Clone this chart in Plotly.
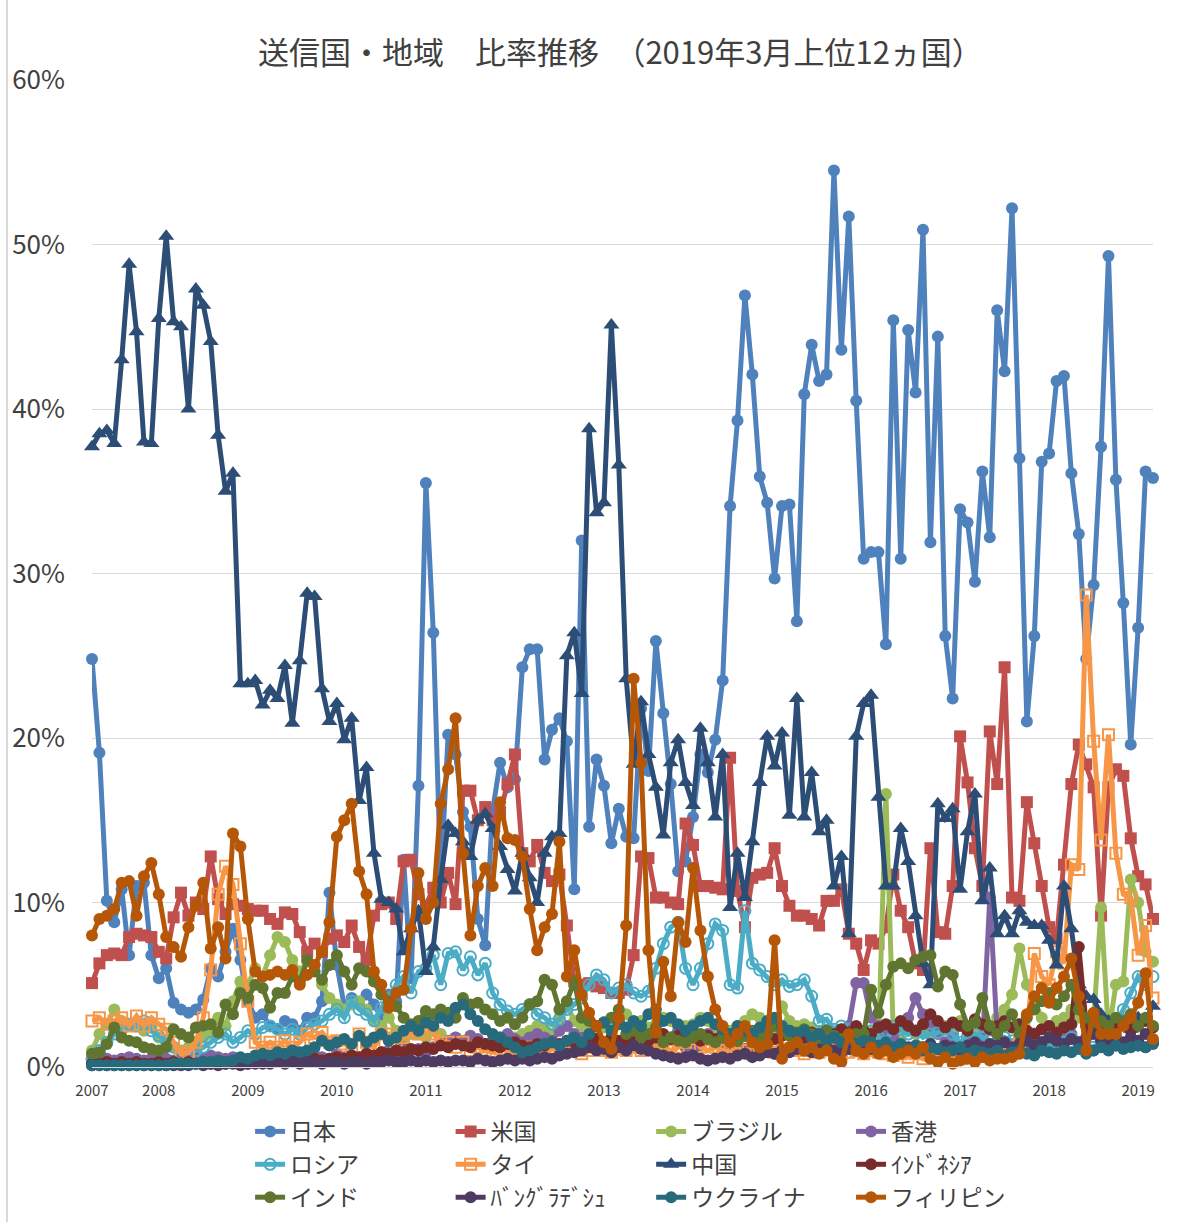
import plotly.graph_objects as go
import pandas as pd

months = [p.strftime("%Y-%m") for p in pd.period_range("2007-04", "2019-03", freq="M")]
year_ticks = ["2007-04"] + [f"{y}-01" for y in range(2008, 2020)]
year_text = [str(y) for y in range(2007, 2020)]

japan = [
    24.8, 19.1, 10.1, 8.8, 10.8, 6.8, 11.0, 11.2, 6.8, 5.4, 6.0, 3.9,
    3.5, 3.3, 3.5, 4.1, 6.0, 5.5, 7.0, 8.4, 6.5, 4.0, 3.0, 3.2,
    2.5, 2.3, 2.8, 2.6, 2.2, 3.0, 3.0, 4.0, 10.6, 6.2, 3.7, 4.2,
    3.8, 4.4, 3.8, 3.0, 4.4, 4.0, 12.6, 5.4, 17.1, 35.5, 26.4, 11.4,
    20.2, 19.0, 15.5, 14.6, 9.0, 7.4, 15.6, 18.5, 17.0, 17.5, 24.3, 25.4,
    25.4, 18.7, 20.5, 21.2, 19.8, 10.8, 32.0, 14.6, 18.7, 17.1, 13.6, 15.7,
    14.0, 13.9, 21.8, 18.0, 25.9, 21.5, 17.2, 11.9, 12.5, 15.2, 19.0, 17.9,
    19.9, 23.5, 34.1, 39.3, 46.9, 42.1, 35.9, 34.3, 29.7, 34.1, 34.2, 27.1,
    40.9, 43.9, 41.7, 42.1, 54.5, 43.6, 51.7, 40.5, 30.9, 31.3, 31.3, 25.7,
    45.4, 30.9, 44.8, 41.0, 50.9, 31.9, 44.4, 26.2, 22.4, 33.9, 33.1, 29.5,
    36.2, 32.2, 46.0, 42.3, 52.2, 37.0, 21.0, 26.2, 36.8, 37.3, 41.7, 42.0,
    36.1, 32.4, 24.8, 29.3, 37.7, 49.3, 35.7, 28.2, 19.6, 26.7, 36.2, 35.8,
]
usa = [
    5.1, 6.3, 6.8, 6.9, 6.8, 7.9, 8.1, 8.0, 7.9, 7.0, 6.6, 9.1,
    10.6, 9.2, 10.0, 9.6, 12.8, 10.2, 9.3, 9.9, 9.8, 9.6, 9.5, 9.5,
    9.0, 8.7, 9.4, 9.3, 8.2, 7.0, 7.5, 7.0, 7.8, 8.0, 7.6, 8.6,
    7.3, 6.5, 9.2, 9.9, 10.0, 9.0, 12.5, 12.6, 10.5, 9.8, 10.9, 10.0,
    11.8, 9.9, 16.8, 16.8, 15.0, 15.8, 15.0, 15.5, 17.2, 19.0, 13.0, 12.5,
    13.5, 11.8, 11.3, 11.7, 8.6, 5.2, 5.0, 5.1, 4.9, 4.8, 4.5, 4.5,
    4.7, 6.8, 12.8, 12.7, 10.3, 10.3, 10.0, 9.9, 14.8, 13.5, 11.0, 11.0,
    10.9, 10.8, 18.8, 10.7, 8.5, 11.5, 11.7, 11.8, 13.3, 11.0, 9.8, 9.2,
    9.2, 9.0, 8.6, 10.1, 10.1, 10.8, 8.1, 7.5, 5.9, 7.7, 7.5, 8.5,
    11.7, 9.5, 8.5, 6.3, 5.9, 13.3, 8.2, 8.1, 11.0, 20.1, 17.3, 13.3,
    11.0, 20.4, 17.2, 24.3, 10.3, 10.1, 16.1, 13.6, 11.0, 8.5, 7.8, 12.3,
    17.2, 19.6, 18.4, 17.0, 9.2, 17.0, 18.1, 17.7, 13.9, 11.6, 11.1, 9.0,
]
brazil = [
    1.0, 2.0, 2.6, 3.5, 2.8, 2.5, 2.6, 2.2, 2.4, 1.8, 1.5, 1.2,
    1.0, 1.2, 1.5, 1.8, 2.0, 3.0, 2.5, 4.0, 5.2, 5.0, 6.0, 5.5,
    6.8, 7.9, 7.6, 6.5, 5.8, 6.4, 6.2, 5.0, 4.2, 3.8, 3.5, 3.8,
    4.0, 3.5, 2.8, 2.5, 3.0, 2.2, 1.5, 2.0, 2.0, 1.8, 2.2, 2.0,
    1.5, 1.8, 1.6, 1.4, 1.5, 1.3, 1.2, 1.5, 1.6, 1.8, 2.0, 2.2,
    2.5, 2.4, 2.0, 3.0, 3.8, 2.8, 2.5, 2.2, 2.0, 2.4, 2.6, 3.0,
    3.2, 2.5, 2.8, 2.4, 2.6, 3.0, 2.8, 2.2, 2.5, 2.6, 3.0, 2.8,
    2.4, 2.0, 2.2, 2.5, 2.8, 3.2, 3.0, 2.6, 2.4, 3.7, 2.8, 2.5,
    2.6, 2.4, 2.2, 2.0, 1.8, 2.0, 1.5, 1.8, 2.0, 2.2, 1.5, 16.6,
    2.0, 1.8, 2.2, 2.0, 2.2, 2.0, 2.4, 2.5, 2.2, 2.8, 2.5, 2.2,
    2.0, 2.5, 3.0, 3.5, 4.4, 7.2, 5.0, 4.0, 3.0, 2.5, 2.8, 3.0,
    3.5, 3.0, 2.5, 2.8, 9.7, 2.0, 5.0, 5.2, 11.4, 10.0, 7.0, 6.4,
]
hongkong = [
    0.3, 0.4, 0.5, 0.4, 0.5, 0.6, 0.5, 0.4, 0.5, 0.6, 0.5, 0.4,
    0.5, 0.4, 0.6, 0.5, 0.7, 0.6, 0.5, 0.6, 0.5, 0.4, 0.6, 0.5,
    0.5, 0.6, 0.4, 0.5, 0.6, 0.5, 0.7, 0.6, 0.5, 0.8, 0.6, 0.7,
    0.6, 0.8, 0.7, 0.9, 1.0, 0.8, 1.2, 1.0, 1.1, 0.9, 1.2, 1.4,
    1.6, 1.8, 1.5, 1.9, 1.7, 1.4, 1.6, 1.8, 2.0, 1.7, 1.5, 1.8,
    2.0, 1.8, 1.6, 2.2, 2.5, 2.0, 1.8, 1.5, 1.7, 1.4, 1.6, 1.3,
    1.2, 1.5, 1.3, 1.0, 1.2, 1.4, 1.8, 2.5, 1.2, 1.0, 1.3, 2.0,
    1.5, 1.2, 1.0, 1.3, 1.1, 0.9, 1.2, 1.0, 0.8, 1.0, 1.2, 1.5,
    1.3, 1.6, 2.0, 1.8, 1.5, 2.2, 2.5, 5.1, 5.1, 3.0, 2.5, 2.0,
    1.8, 2.5, 3.0, 4.2, 3.2, 2.5, 2.0, 1.5, 1.8, 1.2, 1.5, 1.0,
    1.2, 10.3, 2.0, 1.5, 1.2, 1.0, 1.5, 1.3, 1.0, 1.2, 1.5, 1.8,
    2.0, 1.5, 1.2, 1.0, 1.3, 1.5, 1.8, 1.2, 1.5, 1.3, 1.2, 1.5,
]
russia = [
    0.5, 1.0, 1.5, 2.0, 2.3, 2.6, 2.5, 2.8, 2.2, 1.9, 1.6, 1.2,
    0.8, 0.9, 1.0, 1.2, 1.5, 1.8, 2.0, 1.5, 1.8, 2.2, 2.0, 2.4,
    2.5, 2.3, 2.0, 2.3, 2.0, 2.4, 2.6, 2.8, 3.2, 3.5, 3.0, 4.0,
    3.5, 3.2, 2.8, 3.6, 4.2, 5.0, 5.5, 4.5, 5.8, 6.0, 6.8, 5.0,
    6.9, 7.0, 5.9, 6.7, 5.6, 6.3, 4.5, 3.8, 3.4, 3.2, 3.5, 3.8,
    3.2, 3.0, 2.6, 2.9, 3.5, 3.8, 4.2, 5.0, 5.6, 5.3, 4.5, 4.8,
    5.0, 4.5, 4.3, 4.6, 6.0, 7.5, 8.5, 8.8, 6.0, 5.0, 6.0, 7.5,
    8.7, 8.3, 5.0, 4.8, 9.5, 6.3, 5.9, 5.5, 5.0, 5.3, 4.9, 5.0,
    5.3, 4.3, 2.8, 2.9, 2.3, 2.5, 2.3, 2.0, 1.8, 2.2, 1.8, 1.5,
    2.5, 2.3, 2.0, 2.2, 1.8, 2.0, 2.1, 2.3, 2.0, 1.5, 1.9, 2.0,
    1.8, 1.6, 1.5, 1.8, 1.6, 1.5, 1.8, 2.0, 1.5, 1.3, 1.6, 1.5,
    1.8, 1.2, 1.0, 1.2, 1.5, 2.0, 2.5, 3.5, 4.5, 5.5, 5.0, 5.5,
]
thailand = [
    2.8, 3.0, 2.6, 2.8, 3.0, 2.5, 3.1, 2.5, 3.0, 2.6, 2.3, 1.5,
    0.8, 0.9, 1.5, 3.0, 5.9, 10.5, 12.2, 11.1, 7.5, 4.0, 1.5, 1.2,
    1.5, 1.2, 1.6, 1.2, 1.5, 2.0, 1.8, 2.1, 1.5, 1.6, 1.4, 1.2,
    2.0, 1.5, 1.2, 2.0, 2.0, 1.5, 1.8, 2.2, 2.0, 2.5, 2.0, 1.5,
    1.5, 1.2, 1.5, 1.0, 1.2, 1.0, 0.9, 1.1, 1.0, 0.8, 1.0, 1.2,
    1.0, 0.9, 1.1, 1.0, 1.3, 1.0, 0.8, 1.0, 1.2, 1.0, 0.9, 1.1,
    1.0, 1.2, 1.0, 1.5, 1.3, 1.1, 1.0, 1.2, 1.5, 1.8, 1.2, 1.0,
    1.2, 1.0, 0.9, 1.1, 1.0, 0.8, 1.0, 1.2, 0.9, 1.0, 1.1, 1.0,
    0.8, 1.0, 0.9, 1.1, 1.0, 0.8, 0.9, 1.0, 0.8, 1.0, 0.9, 0.8,
    0.7, 0.8, 0.6, 0.8, 0.5, 0.7, 0.6, 0.8, 0.7, 0.5, 0.6, 0.8,
    0.7, 0.9, 0.8, 1.0, 1.2, 1.5, 2.0, 6.9, 5.5, 5.0, 7.0, 6.3,
    12.3, 12.0, 28.7, 19.8, 13.8, 20.2, 13.0, 10.5, 10.3, 6.8, 8.6, 4.2,
]
china = [
    37.7, 38.5, 38.7, 37.9, 43.0, 48.8, 44.7, 38.0, 37.9, 45.5, 50.5, 45.3,
    45.0, 40.0, 47.3, 46.3, 44.1, 38.4, 35.0, 36.1, 23.3, 23.3, 23.5, 22.0,
    22.9, 22.4, 24.4, 20.9, 24.7, 28.8, 28.6, 23.0, 21.0, 22.1, 19.9, 21.2,
    16.2, 18.2, 13.0, 10.2, 10.0, 9.6, 7.0, 8.4, 9.5, 5.8, 7.3, 11.4,
    14.7, 14.2, 13.7, 12.8, 15.0, 15.4, 14.5, 13.4, 12.0, 10.7, 13.0, 11.5,
    10.0, 13.0, 14.0, 14.2, 25.0, 26.4, 22.7, 38.8, 33.7, 34.3, 45.1, 36.6,
    23.6, 18.4, 22.2, 19.0, 17.0, 14.1, 18.5, 19.9, 17.3, 15.9, 20.6, 18.5,
    15.2, 19.0, 9.7, 13.0, 10.3, 13.7, 17.3, 20.1, 18.3, 20.3, 15.3, 22.4,
    15.2, 17.9, 14.3, 15.0, 11.0, 12.8, 8.1, 20.1, 22.1, 22.6, 16.4, 11.0,
    11.0, 14.5, 12.5, 9.2, 6.3, 5.0, 16.0, 15.1, 15.7, 10.8, 14.3, 16.6,
    10.1, 12.1, 8.1, 9.2, 8.1, 9.5, 8.8, 8.6, 8.6, 7.7, 6.2, 11.0,
    8.4, 5.0, 4.3, 4.1, 3.2, 2.8, 2.5, 2.7, 2.3, 3.0, 2.9, 3.7,
]
indonesia = [
    0.2, 0.2, 0.3, 0.2, 0.3, 0.2, 0.3, 0.2, 0.2, 0.3, 0.2, 0.3,
    0.2, 0.3, 0.2, 0.3, 0.2, 0.3, 0.2, 0.3, 0.3, 0.2, 0.4, 0.3,
    0.3, 0.4, 0.3, 0.5, 0.4, 0.3, 0.5, 0.4, 0.5, 0.6, 0.5, 0.7,
    0.6, 0.8, 0.7, 0.9, 0.8, 1.0, 0.9, 1.1, 1.0, 1.2, 1.1, 1.3,
    1.2, 1.4, 1.3, 1.2, 1.5, 1.4, 1.3, 1.2, 1.4, 1.5, 1.3, 1.2,
    1.4, 1.3, 1.5, 1.4, 1.6, 1.5, 1.3, 1.5, 1.7, 1.5, 1.8, 1.6,
    1.5, 1.7, 1.9, 1.6, 1.8, 2.0, 1.7, 1.9, 2.1, 1.8, 1.6, 1.9,
    1.7, 2.0, 1.8, 1.6, 1.9, 2.1, 1.8, 2.0, 1.7, 1.9, 2.2, 2.0,
    1.8, 2.1, 1.9, 2.2, 2.0, 2.3, 2.1, 2.5, 2.2, 2.0, 2.4, 2.6,
    2.3, 2.8, 2.5, 2.2, 2.6, 3.2, 2.8, 2.4, 2.7, 2.5, 2.2, 2.9,
    2.6, 2.3, 2.5, 2.8, 2.4, 2.6, 2.2, 2.0, 2.3, 2.5, 2.1, 2.4,
    2.6, 7.3, 2.5, 2.2, 2.4, 2.0, 2.3, 2.6, 2.2, 2.5, 2.8, 2.4,
]
india = [
    0.8, 0.9, 1.4, 2.4, 1.8, 1.6, 1.5, 1.2, 1.1, 1.0, 1.2, 2.3,
    2.0, 1.8, 2.4, 2.5, 2.6, 2.1, 3.8, 3.2, 4.5, 4.2, 5.0, 4.8,
    3.6, 4.5, 4.5, 5.5, 5.2, 6.5, 5.8, 5.3, 6.2, 6.8, 5.8, 5.0,
    6.0, 5.8, 5.2, 4.4, 4.0, 3.7, 3.0, 2.6, 2.8, 3.4, 3.2, 3.5,
    3.3, 3.0, 4.2, 3.8, 3.9, 3.5, 3.2, 2.8, 3.0, 2.6, 3.0, 3.8,
    4.0, 5.3, 5.0, 3.5, 4.0, 5.2, 3.0, 2.8, 2.5, 2.7, 3.0, 3.5,
    2.0, 2.2, 1.8, 2.0, 2.4, 1.5, 1.8, 1.6, 1.5, 1.8, 2.0, 1.7,
    1.5, 1.8, 2.0, 1.6, 1.9, 2.2, 1.8, 2.0, 2.5, 2.2, 1.9, 2.1,
    2.3, 2.0, 1.8, 2.2, 1.9, 1.7, 1.5, 2.0, 2.0, 4.7, 3.3, 5.0,
    6.1, 6.3, 6.0, 6.5, 6.7, 6.8, 4.9, 5.8, 5.6, 3.8, 2.5, 2.7,
    4.2, 2.5, 2.0, 2.5, 3.2, 2.0, 3.0, 3.5, 4.0, 4.5, 3.8, 4.3,
    5.0, 3.5, 3.0, 2.6, 2.8, 2.5, 3.0, 2.8, 3.2, 2.5, 3.0, 2.5,
]
bangladesh = [
    0.1, 0.1, 0.1, 0.1, 0.1, 0.1, 0.1, 0.1, 0.1, 0.1, 0.1, 0.1,
    0.1, 0.1, 0.2, 0.1, 0.2, 0.1, 0.2, 0.2, 0.1, 0.2, 0.2, 0.2,
    0.2, 0.3, 0.2, 0.3, 0.2, 0.3, 0.3, 0.2, 0.3, 0.3, 0.2, 0.3,
    0.3, 0.2, 0.3, 0.3, 0.4, 0.3, 0.3, 0.4, 0.3, 0.4, 0.3, 0.4,
    0.3, 0.4, 0.4, 0.3, 0.5, 0.4, 0.3, 0.4, 0.5, 0.4, 0.5, 0.4,
    0.5, 0.6, 0.5, 0.7, 0.8, 0.9, 1.0, 1.2, 1.0, 1.1, 0.9, 1.2,
    1.0, 1.3, 1.1, 1.0, 0.8, 0.7, 0.6, 0.5, 0.6, 0.7, 0.5, 0.4,
    0.5, 0.6, 0.5, 0.7, 0.8, 0.6, 0.7, 0.9, 0.8, 1.0, 0.9, 1.1,
    1.0, 0.9, 1.1, 1.2, 1.0, 0.9, 1.1, 1.0, 1.2, 1.1, 1.0, 1.2,
    1.1, 1.3, 1.2, 1.0, 1.2, 1.4, 1.1, 1.3, 1.2, 1.0, 1.3, 1.5,
    1.2, 1.4, 1.3, 1.5, 1.2, 1.4, 1.6, 1.3, 1.5, 1.8, 1.6, 1.4,
    1.7, 1.5, 1.8, 2.0, 1.6, 1.5, 1.3, 1.5, 1.8, 1.6, 2.0, 1.5,
]
ukraine = [
    0.1, 0.1, 0.1, 0.1, 0.1, 0.1, 0.1, 0.1, 0.1, 0.1, 0.1, 0.2,
    0.2, 0.2, 0.2, 0.3, 0.3, 0.4, 0.3, 0.4, 0.6, 0.5, 0.7, 0.8,
    0.7, 0.9, 0.8, 1.0, 0.9, 1.0, 1.2, 1.6, 1.3, 1.5, 1.7, 1.4,
    1.9, 1.5, 1.8, 2.0, 1.6, 1.8, 2.2, 2.5, 2.2, 2.7, 2.5, 3.0,
    2.8, 3.6, 3.8, 3.2, 2.8, 2.3, 2.0, 1.8, 1.5, 1.2, 0.9, 1.0,
    1.2, 1.4, 1.5, 1.3, 1.6, 1.8, 1.5, 2.0, 2.5, 2.7, 2.2, 2.6,
    2.4, 2.8, 2.5, 3.2, 3.5, 2.8, 3.0, 2.6, 2.2, 2.5, 2.8, 3.0,
    2.6, 2.3, 2.0, 2.5, 2.2, 2.0, 2.4, 2.8, 3.0, 2.5, 2.2, 2.0,
    2.2, 1.8, 2.0, 1.6, 1.8, 1.5, 1.7, 1.4, 1.6, 1.5, 1.3, 1.5,
    1.2, 1.4, 1.1, 1.3, 1.0, 1.2, 1.1, 0.9, 1.0, 1.2, 0.8, 1.0,
    0.9, 0.8, 1.0, 0.7, 0.9, 1.0, 0.8, 0.7, 1.0, 0.9, 0.8, 1.0,
    0.9, 1.1, 0.8, 1.0, 1.2, 1.0, 1.3, 1.1, 1.2, 1.3, 1.2, 1.4,
]
philippines = [
    8.0, 9.0, 9.2, 9.6, 11.2, 11.3, 9.2, 11.6, 12.4, 10.5, 7.9, 7.3,
    6.7, 8.5, 9.8, 11.2, 7.2, 8.5, 6.6, 14.2, 13.4, 9.0, 5.8, 5.5,
    5.6, 5.8, 5.6, 5.9, 5.0, 5.6, 6.2, 7.0, 8.8, 14.0, 15.0, 16.0,
    11.9, 10.5, 5.8, 5.0, 3.6, 4.5, 4.7, 8.4, 11.8, 9.0, 10.0, 16.0,
    18.1, 21.2, 13.0, 8.0, 11.0, 12.1, 11.0, 16.1, 13.9, 13.8, 12.8, 9.6,
    7.1, 8.5, 9.3, 13.7, 5.5, 7.1, 4.4, 3.3, 2.5, 1.5, 1.1, 3.0,
    8.6, 23.6, 18.5, 7.1, 2.1, 6.4, 4.3, 8.8, 7.6, 12.1, 8.3, 5.5,
    3.5, 2.5, 1.5, 2.0, 2.5, 1.5, 1.2, 1.4, 7.7, 0.5, 1.2, 1.5,
    1.0, 1.2, 0.8, 1.0, 0.5, 0.3, 2.0, 1.0, 0.8, 1.2, 0.8, 1.0,
    0.6, 0.8, 1.0, 0.8, 1.2, 0.5, 0.3, 0.6, 0.2, 0.4, 0.5, 0.3,
    0.6, 0.4, 0.5, 0.5, 0.6, 0.8, 3.2, 4.3, 4.8, 3.9, 4.8, 5.5,
    6.6, 4.3, 1.0, 3.3, 2.0, 2.0, 2.0, 2.5, 3.0, 3.9, 5.7, 1.7,
]

series = [
    ("日本", japan, "#4F81BD", "circle"),
    ("米国", usa, "#C0504D", "square"),
    ("ブラジル", brazil, "#9BBB59", "circle"),
    ("香港", hongkong, "#8064A2", "circle"),
    ("ロシア", russia, "#4BACC6", "circle-open"),
    ("タイ", thailand, "#F79646", "square-open"),
    ("中国", china, "#2C4D75", "triangle-up"),
    ("ｲﾝﾄﾞﾈｼｱ", indonesia, "#772C2A", "circle"),
    ("インド", india, "#5F7530", "circle"),
    ("ﾊﾞﾝｸﾞﾗﾃﾞｼｭ", bangladesh, "#4D3B62", "circle"),
    ("ウクライナ", ukraine, "#276A7C", "circle"),
    ("フィリピン", philippines, "#B65708", "circle"),
]

FONT = "Noto Sans CJK JP"
TXT = "#404040"

fig = go.Figure()
legend_ids = ["legend", "legend2", "legend3", "legend4"]
for i, (name, vals, color, sym) in enumerate(series):
    if sym.endswith("open"):
        marker = dict(symbol=sym, size=11, color=color, line=dict(width=2, color=color))
    else:
        size = 14 if sym == "triangle-up" else 12
        marker = dict(symbol=sym, size=size, color=color, line=dict(width=0))
    fig.add_trace(go.Scatter(
        x=months, y=vals, name=name, mode="lines+markers",
        line=dict(color=color, width=5),
        marker=marker, cliponaxis=False,
        legend=legend_ids[i % 4],
    ))

leg_common = dict(orientation="v", yanchor="top", xanchor="left", y=-0.0435,
                  font=dict(family=FONT, size=23, color=TXT),
                  bgcolor="rgba(0,0,0,0)", borderwidth=0)
legend_x = [0.149, 0.338, 0.527, 0.7154]

fig.update_layout(
    width=1199, height=1222,
    margin=dict(l=92, r=46, t=80, b=155, autoexpand=False),
    paper_bgcolor="white", plot_bgcolor="white",
    title=dict(text="送信国・地域　比率推移　（2019年3月上位12ヵ国）",
               font=dict(family=FONT, size=31, color=TXT),
               x=0.498, xref="paper", xanchor="center",
               y=1 - 53 / 1222, yref="container", yanchor="middle"),
    legend=dict(x=legend_x[0], **leg_common),
    legend2=dict(x=legend_x[1], **leg_common),
    legend3=dict(x=legend_x[2], **leg_common),
    legend4=dict(x=legend_x[3], **leg_common),
    xaxis=dict(type="category", categoryorder="array", categoryarray=months,
               range=[0, len(months) - 1], automargin=False,
               tickmode="array", tickvals=year_ticks, ticktext=year_text,
               showgrid=False, showline=True, linecolor="#D9D9D9", linewidth=1,
               ticks="", ticklabelstandoff=10,
               tickfont=dict(family=FONT, size=15, color=TXT)),
    yaxis=dict(range=[0, 60], dtick=10, ticksuffix="%", automargin=False,
               showgrid=True, gridcolor="#D9D9D9", gridwidth=1.3,
               zeroline=False, showline=False, ticks="",
               ticklabelstandoff=26,
               tickfont=dict(family=FONT, size=26, color=TXT)),
    shapes=[dict(type="line", xref="paper", yref="paper",
                 x0=-(92 - 7) / 1061, x1=-(92 - 7) / 1061,
                 y0=-(1222 - 1067) / 987, y1=1 + 80 / 987,
                 line=dict(color="#D9D9D9", width=2))],
)

fig.write_html("out.html", config={"displayModeBar": False},
               post_script="document.body.style.margin='0';document.body.style.padding='0';")
